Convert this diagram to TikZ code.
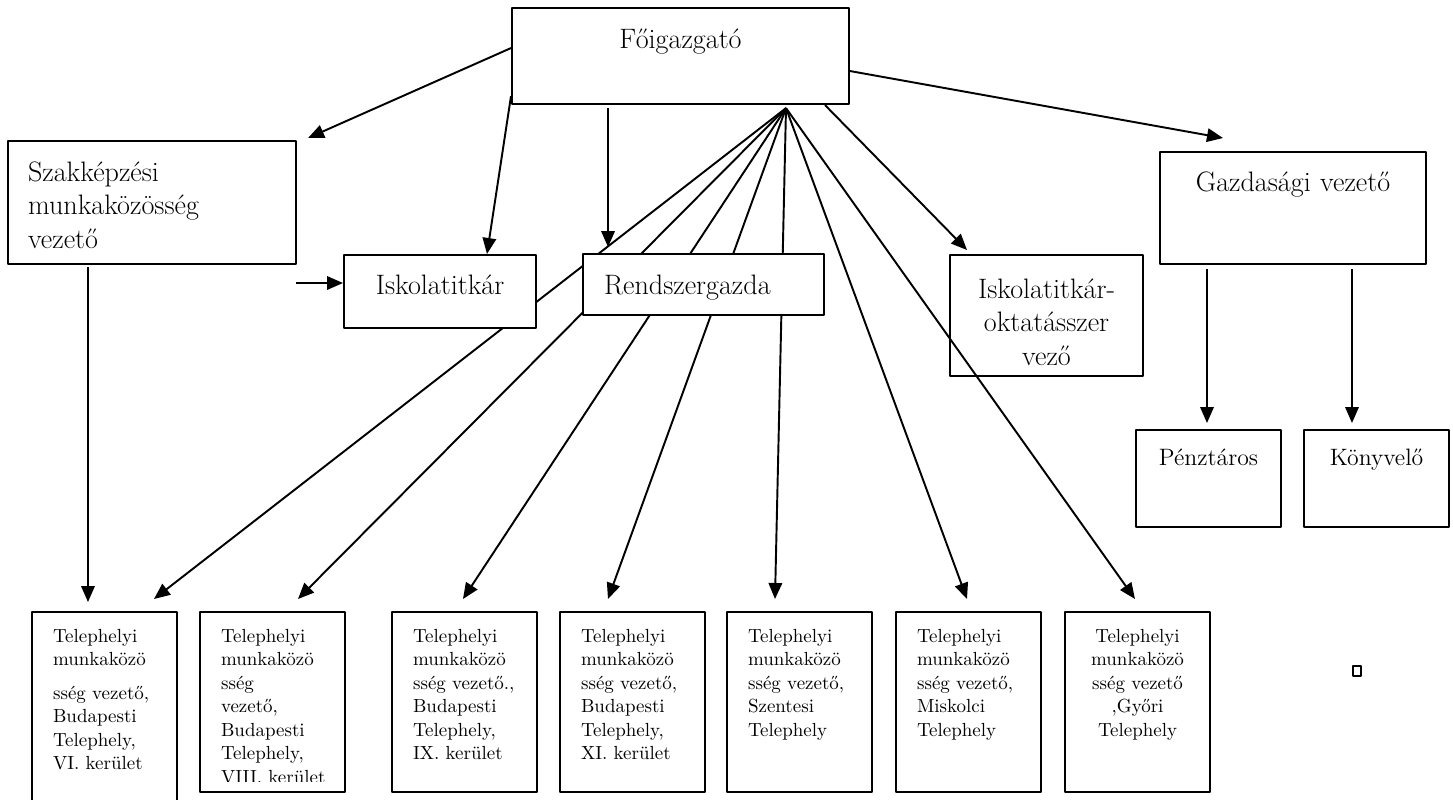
\documentclass[tikz,border=0pt]{standalone}
\usepackage{fontspec}
\usetikzlibrary{arrows.meta,backgrounds}
\tikzset{
	box/.style={draw, fill=white, line width=1.2pt, inner sep=0pt, anchor=north west},
	big/.style={box, font=\fontsize{16}{19.3}\selectfont},
	small/.style={box, font=\fontsize{13.5}{16}\selectfont},
	cell/.style={box, minimum width=2.9cm, minimum height=3.6cm, text width=2.06cm, inner xsep=0.42cm, align=left, text height=0.6cm, text depth=3cm, font=\fontsize{10.8}{13.4}\selectfont},
	link/.style={->, line width=1.1pt},
}
\begin{document}
\begin{tikzpicture}[x=0.02cm, y=-0.02cm, line join=round, >={Triangle[length=0.32cm, width=0.27cm]}]
			\path[use as bounding box] (0,0) rectangle (1453,799);
			% felso szint
			\node[big, minimum width=6.74cm, minimum height=1.92cm, text width=6.74cm, align=center, text height=0.8cm, text depth=1.12cm] (foig) at (511,7) {Főigazgató};
			\node[big, minimum width=5.76cm, minimum height=2.46cm, text width=4.96cm, inner xsep=0.4cm, align=left, text height=0.8cm, text depth=1.66cm] (szak) at (7,140) {Szakképzési\\ munkaközösség\\ vezető};
			\node[big, minimum width=3.84cm, minimum height=1.46cm, text width=3.84cm, align=center, text height=0.78cm, text depth=0.68cm] (iskt) at (343,254) {Iskolatitkár};
			\node[big, minimum width=4.82cm, minimum height=1.22cm, text width=3.98cm, inner xsep=0.42cm, align=left, text height=0.8cm, text depth=0.42cm] (rend) at (582,253) {Rendszergazda};
			\node[big, fill=none, minimum width=3.86cm, minimum height=2.42cm] (iokt) at (949,254) {};
			\begin{scope}
				\clip (iokt.north west) rectangle ([yshift=0.24cm]iokt.south east);
				\node[big, draw=none, fill=none, text width=3.86cm, align=center, text height=0.86cm] (iokttxt) at (iokt.north west) {Iskolatitkár-\\ oktatásszer\\ vező};
			\end{scope}
			\node[big, minimum width=5.32cm, minimum height=2.24cm, text width=5.32cm, align=center, text height=0.78cm, text depth=1.46cm] (gazd) at (1159,151) {Gazdasági vezető};
			\node[small, minimum width=2.9cm, minimum height=1.94cm, text width=2.9cm, align=center, text height=0.7cm, text depth=1.24cm] (penz) at (1135,429) {Pénztáros};
			\node[small, minimum width=2.9cm, minimum height=1.94cm, text width=2.9cm, align=center, text height=0.7cm, text depth=1.24cm] (konyv) at (1303,429) {Könyvelő};
			% telephelyek
			\node[cell, minimum height=4cm, text depth=3.4cm] (t1) at (31,611) {Telephelyi\\ munkaközö\\[0.2cm] sség~vezető,\\ Budapesti\\ Telephely,\\ VI.~kerület};
			\node[cell] (t2) at (199,611) {};
			\begin{scope}
				\clip (t2.north west) rectangle ([yshift=0.24cm]t2.south east);
				\node[cell, draw=none, fill=none] (t2txt) at (t2.north west) {Telephelyi\\ munkaközö\\ sség\\ vezető,\\ Budapesti\\ Telephely,\\ VIII.~kerület};
			\end{scope}
			\node[cell] (t3) at (391,611) {Telephelyi\\ munkaközö\\ sség~vezető.,\\ Budapesti\\ Telephely,\\ IX.~kerület};
			\node[cell] (t4) at (559,611) {Telephelyi\\ munkaközö\\ sség~vezető,\\ Budapesti\\ Telephely,\\ XI.~kerület};
			\node[cell] (t5) at (726,611) {Telephelyi\\ munkaközö\\ sség~vezető,\\ Szentesi\\ Telephely};
			\node[cell] (t6) at (895,611) {Telephelyi\\ munkaközö\\ sség~vezető,\\ Miskolci\\ Telephely};
			\node[cell, align=center] (t7) at (1064,611) {Telephelyi\\ munkaközö\\ sség~vezető\\ ,Győri\\ Telephely};
			\draw[line width=1.2pt] (1353,666) rectangle (1361,676);
			% kapcsolatok
			\coordinate (fan) at ([xshift=2.11cm,yshift=-0.06cm]foig.south);
			\coordinate (foigr) at ([xshift=-1.45cm,yshift=-0.06cm]foig.south);
			\coordinate (szakout) at ([xshift=1.62cm,yshift=-0.04cm]szak.south west);
			\coordinate (penzin) at ([xshift=1.44cm]penz.north west);
			\coordinate (konyvin) at ([xshift=0.98cm]konyv.north west);
			\coordinate (isin) at (296,283);
			\begin{pgfonlayer}{background}
				\draw[link] ([yshift=0.16cm]foig.west) -- ([xshift=0.22cm,yshift=0.04cm]szak.north east);
				\draw[link] ([yshift=0.18cm]foig.south west) -- ([xshift=2.88cm]iskt.north west);
				\draw[link, shorten >=0.12cm] (foigr) -- (foigr |- rend.north);
				\draw[link] ([xshift=-0.5cm]foig.south east) -- ([xshift=0.36cm,yshift=0.08cm]iokt.north west);
				\draw[link] ([yshift=-0.3cm]foig.east) -- ([xshift=1.28cm,yshift=0.26cm]gazd.north west);
				\draw[link] (fan) -- ([xshift=2.46cm,yshift=0.24cm]t1.north west);
				\draw[link] (fan) -- ([xshift=1.98cm,yshift=0.24cm]t2.north west);
				\draw[link] (fan) -- ([xshift=1.44cm,yshift=0.24cm]t3.north west);
				\draw[link] (fan) -- ([xshift=0.98cm,yshift=0.24cm]t4.north west);
				\draw[link] (fan) -- ([xshift=0.98cm,yshift=0.24cm]t5.north west);
				\draw[link] (fan) -- ([xshift=1.44cm,yshift=0.24cm]t6.north west);
				\draw[link] (fan) -- ([xshift=1.42cm,yshift=0.24cm]t7.north west);
				\draw[link, shorten >=0.18cm] (szakout) -- (szakout |- t1.north);
				\draw[link] (isin) -- (isin -| iskt.west);
				\draw[link, shorten <=0.08cm, shorten >=0.12cm] (penzin |- gazd.south) -- (penzin);
				\draw[link, shorten <=0.08cm, shorten >=0.12cm] (konyvin |- gazd.south) -- (konyvin);
			\end{pgfonlayer}
		\end{tikzpicture}
\end{document}
